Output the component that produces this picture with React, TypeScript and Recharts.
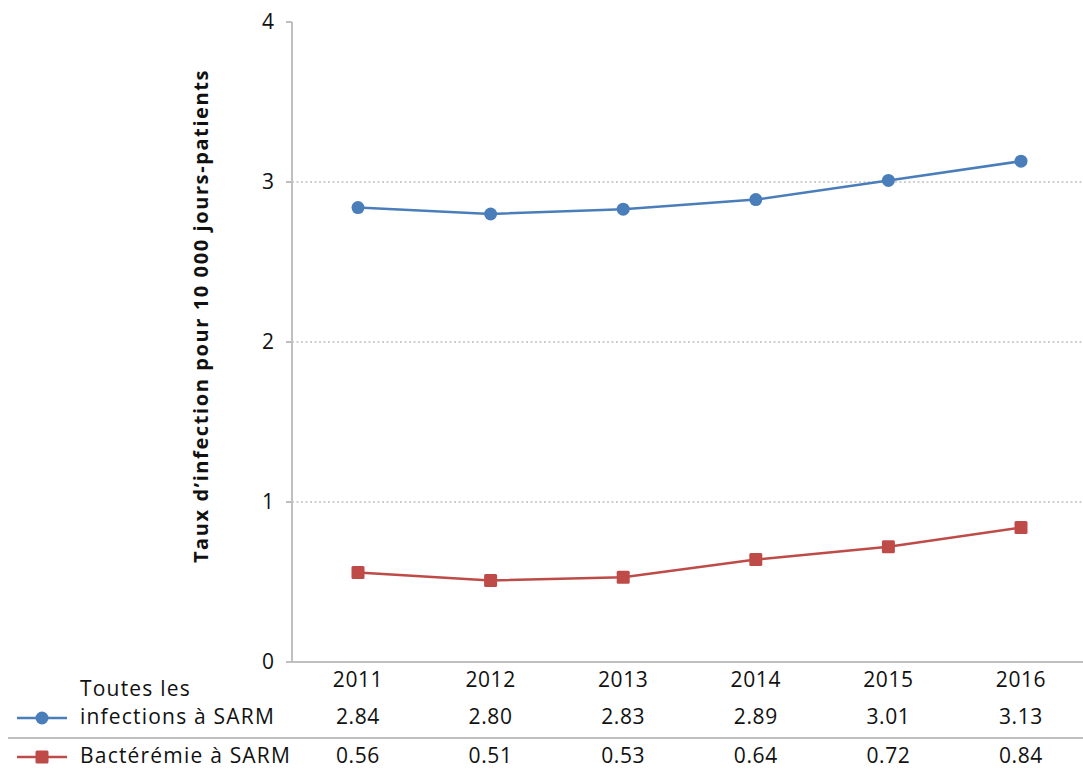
import { LineChart, Line, XAxis, YAxis, ReferenceLine, Customized } from 'recharts';

const years = ['2011', '2012', '2013', '2014', '2015', '2016'];
const allInfections = [2.84, 2.8, 2.83, 2.89, 3.01, 3.13];
const bacteremia = [0.56, 0.51, 0.53, 0.64, 0.72, 0.84];
const yTicks = [0, 1, 2, 3, 4];
const gridValues = [1, 2, 3];

const seriesNames = ['Toutes les infections à SARM', 'Bactérémie à SARM'];

const BLUE = '#4a7ebb';
const RED = '#be4b48';
const AXIS = '#bfbfbf';
const FONT = '"Open Sans", "Noto Sans", sans-serif';

const data = years.map((year, i) => ({
  year,
  infections: allInfections[i],
  bacteremia: bacteremia[i],
}));

const SquareDot = (props: any) => {
  const { cx, cy } = props;
  if (cx == null || cy == null) return null;
  return <rect x={cx - 6.5} y={cy - 6.5} width={13} height={13} rx={1.5} fill={RED} />;
};

// year + data table values under each category
const TableTick = (props: any) => {
  const { x, y, payload } = props;
  const i = payload.index;
  return (
    <g fontFamily={FONT} fontSize={21} letterSpacing={0.6} fill="#111" textAnchor="middle">
      <text x={x} y={y + 19} dominantBaseline="middle">{payload.value}</text>
      <text x={x} y={y + 56} dominantBaseline="middle">{allInfections[i].toFixed(2)}</text>
      <text x={x} y={y + 95} dominantBaseline="middle">{bacteremia[i].toFixed(2)}</text>
    </g>
  );
};

const TableLegend = () => (
  <g fontFamily={FONT} fontSize={21} letterSpacing={1.2} fill="#111">
    <line x1={8} y1={738} x2={1083} y2={738} stroke={AXIS} strokeWidth={2} />
    <line x1={17} y1={718} x2={67} y2={718} stroke={BLUE} strokeWidth={2.5} />
    <circle cx={42} cy={718} r={6.5} fill={BLUE} />
    <text x={80} y={690} dominantBaseline="middle">Toutes les</text>
    <text x={80} y={718} dominantBaseline="middle">infections à SARM</text>
    <line x1={17} y1={757} x2={67} y2={757} stroke={RED} strokeWidth={2.5} />
    <rect x={35.5} y={750.5} width={13} height={13} rx={1.5} fill={RED} />
    <text x={80} y={757} dominantBaseline="middle">Bactérémie à SARM</text>
    <text
      x={203}
      y={316}
      transform="rotate(-90 203 316)"
      textAnchor="middle"
      dominantBaseline="middle"
      fontWeight="bold"
      fontSize={20}
      letterSpacing={1.6}
    >
      Taux d’infection pour 10 000 jours-patients
    </text>
  </g>
);

export default function App() {
  return (
    <div style={{ position: 'absolute', left: 0, top: 0, background: '#fff' }}>
      <LineChart
        width={1083}
        height={770}
        data={data}
        margin={{ top: 22, right: -4, left: 232, bottom: 0 }}
      >
        {gridValues.map((v) => (
          <ReferenceLine
            key={v}
            y={v}
            stroke="#d0d0d0"
            strokeWidth={2}
            strokeDasharray="2 2.5"
          />
        ))}
        <XAxis
          dataKey="year"
          axisLine={{ stroke: AXIS, strokeWidth: 2 }}
          tickLine={false}
          tickSize={0}
          tickMargin={0}
          tick={<TableTick />}
          interval={0}
          height={108}
          padding={{ left: 66, right: 66 }}
        />
        <YAxis
          domain={[0, 4]}
          ticks={yTicks}
          axisLine={{ stroke: AXIS, strokeWidth: 2 }}
          tickLine={{ stroke: AXIS, strokeWidth: 2 }}
          tickSize={6}
          tickMargin={12}
          width={60}
          tick={{ fontFamily: FONT, fontSize: 21, fill: '#111' }}
        />
        <Line
          name={seriesNames[0]}
          dataKey="infections"
          stroke={BLUE}
          strokeWidth={2.5}
          dot={{ r: 6.5, fill: BLUE, stroke: 'none' }}
          isAnimationActive={false}
        />
        <Line
          name={seriesNames[1]}
          dataKey="bacteremia"
          stroke={RED}
          strokeWidth={2.5}
          dot={<SquareDot />}
          isAnimationActive={false}
        />
        <Customized component={TableLegend} />
      </LineChart>
    </div>
  );
}
